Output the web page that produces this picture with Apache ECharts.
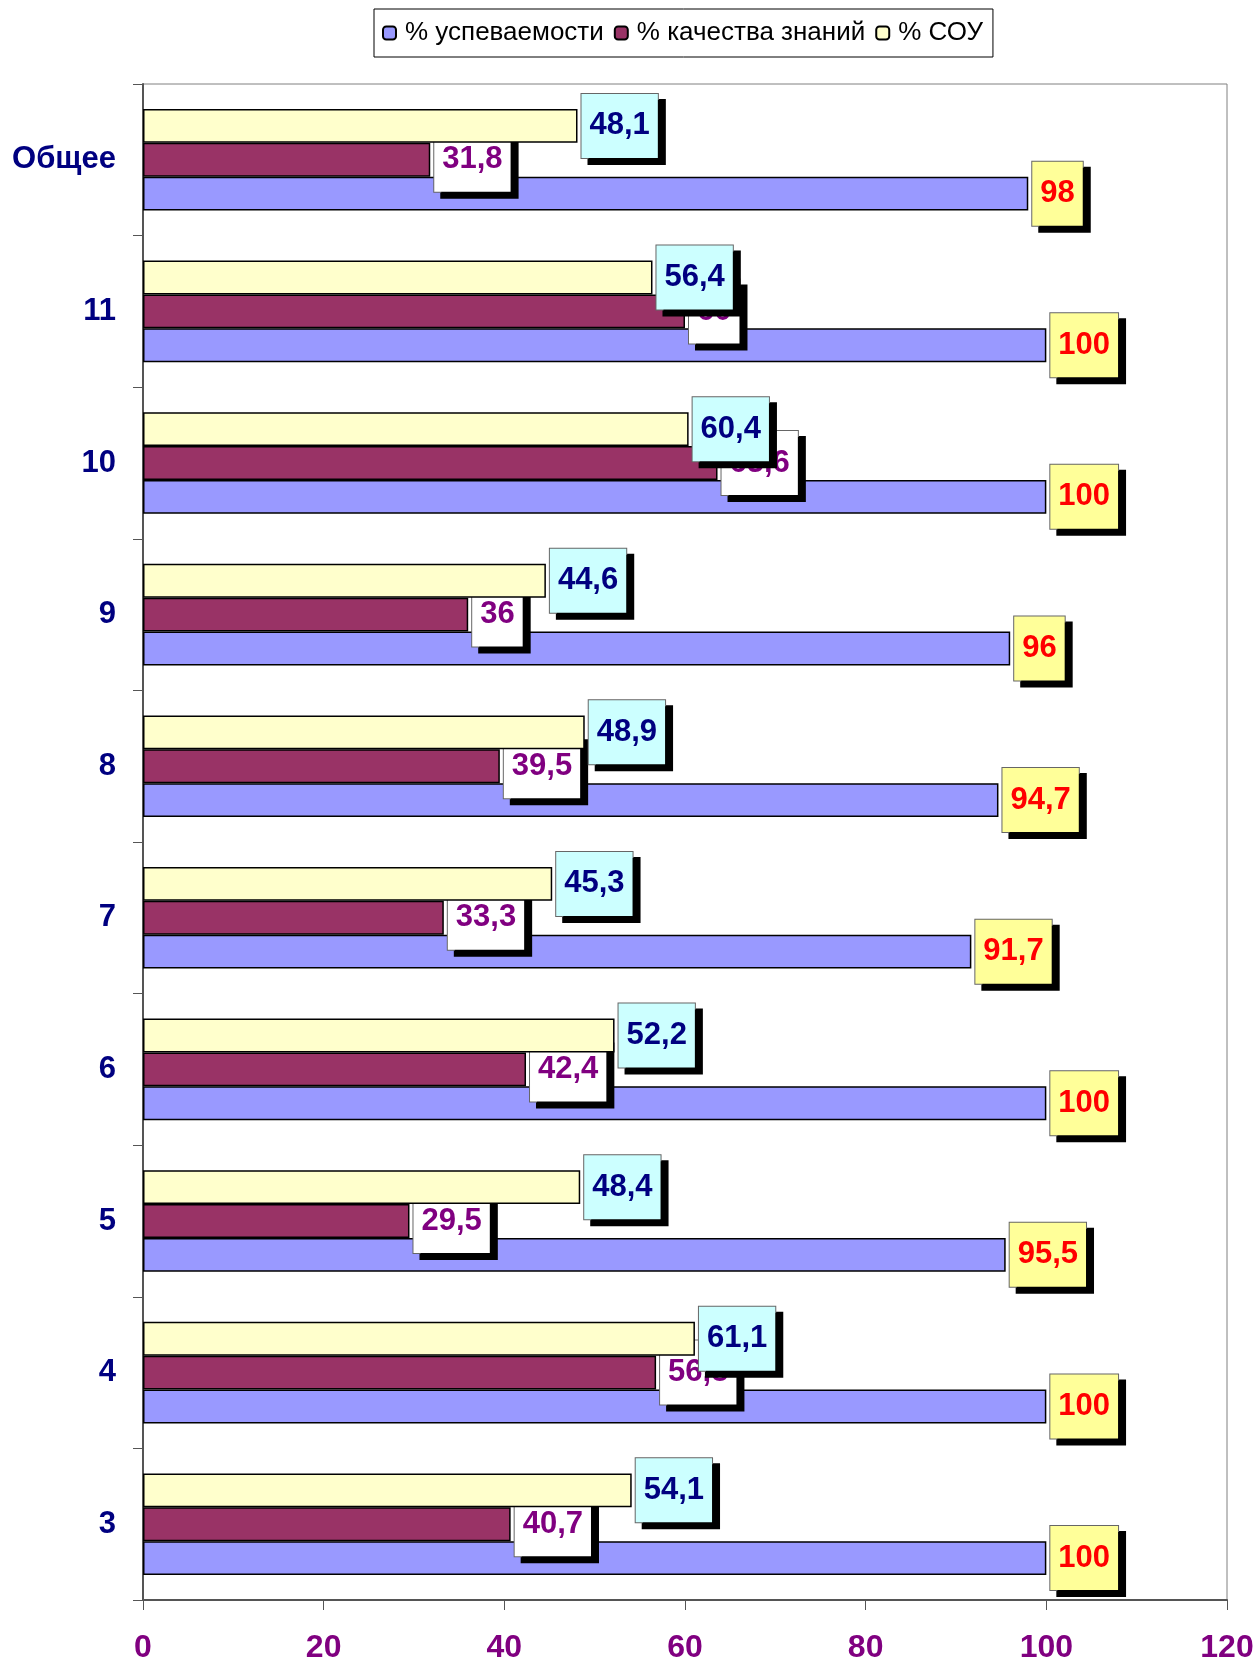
<!DOCTYPE html>
<html>
<head>
<meta charset="utf-8">
<script src="https://cdn.jsdelivr.net/npm/echarts@6/dist/echarts.min.js"></script>
<style>
  html, body { margin: 0; padding: 0; background: #fff; }
  #chart { width: 1258px; height: 1666px; }
</style>
</head>
<body>
<div id="chart"></div>
<script>
// категории (снизу вверх)
var categories = ['3', '4', '5', '6', '7', '8', '9', '10', '11', 'Общее'];
var seriesNames = ['% успеваемости', '% качества знаний', '% СОУ'];
var uspev = [100, 100, 95.5, 100, 91.7, 94.7, 96, 100, 100, 98];
var kachestvo = [40.7, 56.8, 29.5, 42.4, 33.3, 39.5, 36, 63.6, 60, 31.8];
var sou = [54.1, 61.1, 48.4, 52.2, 45.3, 48.9, 44.6, 60.4, 56.4, 48.1];
var xTicks = [0, 20, 40, 60, 80, 100, 120];

var FONT = 'Arial, "Liberation Sans", sans-serif';

function fmt(p) {
    return String(p.value).replace('.', ',');
}

//подпись с рамкой и тенью
function boxLabel(bg, color) {
    return {
        show: true,
        position: 'right',
        distance: 4,
        formatter: fmt,
        fontFamily: FONT,
        fontWeight: 'bold',
        fontSize: 31,
        lineHeight: 34,
        color: color,
        backgroundColor: bg,
        borderColor: '#666666',
        borderWidth: 1,
        padding: [15, 8, 15, 8],
        shadowColor: '#000',
        shadowBlur: 0,
        shadowOffsetX: 7,
        shadowOffsetY: 6
    };
}

var chart = echarts.init(document.getElementById('chart'));
var option = {
    animation: false,
    legend: {
        left: 374,
        top: 9,
        padding: [11, 10, 11, 8],
        borderColor: '#000',
        borderWidth: 1,
        itemWidth: 13,
        itemHeight: 13,
        itemGap: 10,
        textStyle: { fontFamily: FONT, fontSize: 26, color: '#000', padding: [0, 0, 0, 4] },
        data: seriesNames
    },
    grid: {
        left: 143,
        right: 31,
        top: 84,
        bottom: 66,
        show: true,
        borderColor: '#808080',
        borderWidth: 1
    },
    xAxis: {
        type: 'value',
        min: 0,
        max: 120,
        interval: 20,
        splitLine: { show: false },
        axisLine: { show: true, lineStyle: { color: '#555', width: 2 } },
        axisTick: { show: true, length: 10, lineStyle: { color: '#555' } },
        axisLabel: {
            margin: 32,
            fontFamily: FONT,
            fontWeight: 'bold',
            fontSize: 32,
            color: '#800080',
            formatter: function (v) { return xTicks.indexOf(v) >= 0 ? String(v) : ''; }
        }
    },
    yAxis: {
        type: 'category',
        data: categories,
        axisLine: { show: true, lineStyle: { color: '#555', width: 2 } },
        axisTick: { show: true, length: 10, lineStyle: { color: '#555' } },
        axisLabel: {
            margin: 27,
            fontFamily: FONT,
            fontWeight: 'bold',
            fontSize: 31,
            color: '#000080'
        }
    },
    // порядок серий: сверху вниз внутри категории
    series: [
        {
            name: seriesNames[2],
            type: 'bar',
            z: 4,
            data: sou,
            barGap: '0%',
            barCategoryGap: '33%',
            itemStyle: { color: '#ffffcc', borderColor: '#000', borderWidth: 1.5 },
            label: boxLabel('#ccffff', '#000080')
        },
        {
            name: seriesNames[1],
            type: 'bar',
            z: 3,
            data: kachestvo,
            barGap: '0%',
            barCategoryGap: '33%',
            itemStyle: { color: '#993366', borderColor: '#000', borderWidth: 1.5 },
            label: boxLabel('#ffffff', '#800080')
        },
        {
            name: seriesNames[0],
            type: 'bar',
            z: 2,
            data: uspev,
            barGap: '0%',
            barCategoryGap: '33%',
            itemStyle: { color: '#9999ff', borderColor: '#000', borderWidth: 1.5 },
            label: boxLabel('#ffff99', '#ff0000')
        }
    ]
};
chart.setOption(option);
</script>
</body>
</html>
